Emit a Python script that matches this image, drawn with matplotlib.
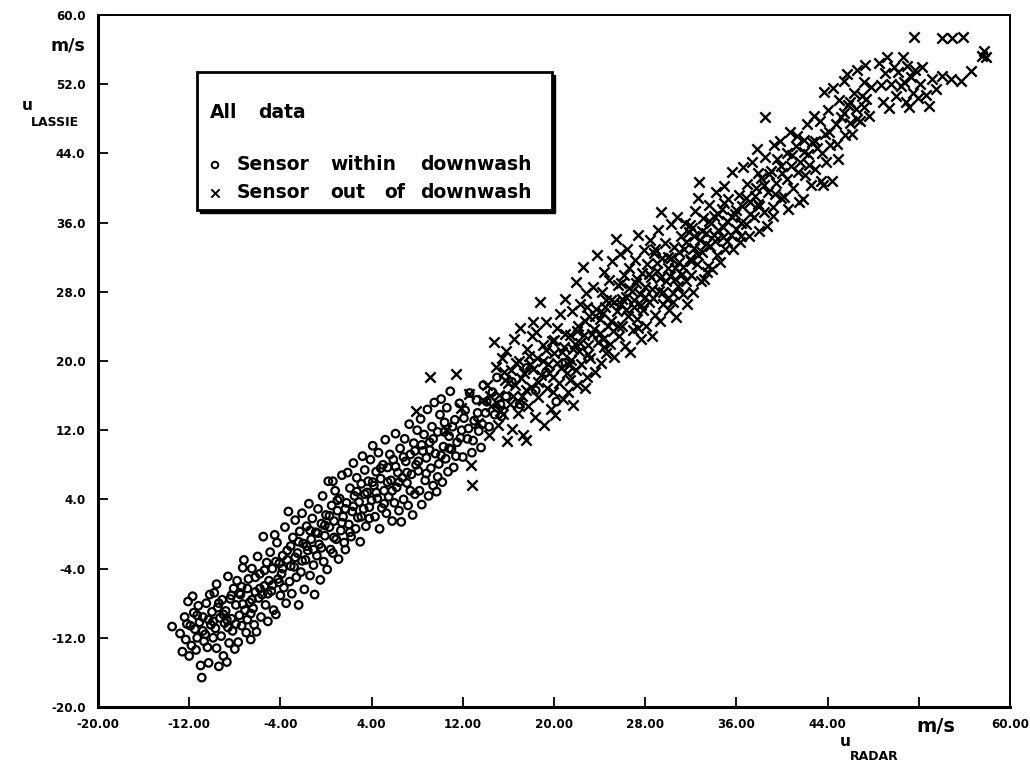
import matplotlib
matplotlib.use("Agg")
import matplotlib.pyplot as plt
from matplotlib.patches import Rectangle

# ---------------- data ----------------
within_pts = [
    (-13.5,-10.7),(-12.8,-11.5),(-12.6,-13.6),(-12.3,-12.2),(-12.1,-7.8),(-12.4,-9.6),(-12.0,-14.1),(-12.2,-10.4),
    (-11.8,-12.9),(-11.6,-9.1),(-11.5,-11.0),(-11.4,-13.4),(-11.2,-8.3),(-11.1,-10.2),(-11.0,-15.2),(-11.7,-7.2),(-11.3,-12.0),
    (-10.9,-16.6),(-10.8,-9.6),(-10.6,-11.6),(-10.5,-8.0),(-10.4,-13.1),(-10.3,-14.9),(-10.2,-7.0),(-10.1,-10.5),(-10.7,-12.4),(-10.0,-9.0),
    (-9.9,-12.0),(-9.8,-6.8),(-9.7,-10.9),(-9.6,-13.2),(-9.5,-8.5),(-9.4,-15.3),(-9.3,-9.7),(-9.2,-11.8),(-9.1,-7.6),(-9.0,-14.1),(-9.6,-5.8),
    (-8.9,-10.3),(-8.8,-8.9),(-8.7,-14.8),(-8.6,-4.9),(-8.5,-12.6),(-8.4,-7.5),(-8.3,-9.8),(-8.2,-11.2),(-8.1,-6.3),(-8.0,-13.3),(-8.6,-10.8),
    (-7.9,-8.2),(-7.8,-5.4),(-7.7,-12.5),(-7.6,-9.4),(-7.5,-7.0),(-7.4,-10.6),(-7.3,-3.9),(-7.2,-3.0),(-7.1,-8.8),(-7.0,-11.4),(-7.4,-6.1),
    (-6.9,-9.9),(-6.8,-5.2),(-6.7,-7.9),(-6.6,-12.2),(-6.5,-4.0),(-6.4,-8.6),(-6.3,-10.5),(-6.2,-6.7),(-6.1,-11.3),(-6.0,-2.6),(-6.6,-9.2),
    (-5.9,-7.4),(-5.8,-4.6),(-5.7,-9.6),(-5.5,-0.3),(-5.4,-6.0),(-5.3,-8.2),(-5.2,-3.3),(-5.1,-10.1),(-5.0,-5.4),(-5.6,-7.0),
    (-4.9,-2.1),(-4.8,-6.6),(-4.7,-4.0),(-4.6,-8.8),(-4.4,-9.3),(-4.3,-1.0),(-4.2,-5.2),(-4.1,-3.4),(-4.0,-7.1),(-4.5,-0.1),
    (-3.9,-4.6),(-3.8,-2.5),(-3.7,-6.2),(-3.6,0.8),(-3.5,-8.0),(-3.4,-3.0),(-3.3,2.6),(-3.2,-5.5),(-3.1,-1.4),(-3.0,-6.9),
    (-2.9,-0.4),(-2.8,-3.8),(-2.7,1.6),(-2.6,-5.0),(-2.5,-2.2),(-2.4,-8.2),(-2.3,0.3),(-2.2,-4.4),(-2.1,2.4),(-2.0,-1.1),
    (-1.9,-6.4),(-1.8,-3.0),(-1.7,0.9),(-1.6,-1.9),(-1.5,3.5),(-1.4,-4.8),(-1.3,-0.6),(-1.2,1.8),(-1.1,-3.6),(-1.0,-7.0),
    (-0.9,0.2),(-0.8,-2.5),(-0.7,2.9),(-0.6,-1.2),(-0.5,-5.3),(-0.4,1.2),(-0.3,4.4),(-0.2,-3.2),(-0.1,-0.2),(0.0,2.2),
    (0.2,6.1),(0.1,-4.1),(0.3,0.8),(0.4,-1.8),(0.5,3.3),(0.6,-2.2),(0.7,1.5),(0.8,5.0),(0.9,-0.6),(1.0,2.7),(0.6,6.1),
    (1.1,-2.9),(1.2,4.1),(1.3,0.4),(1.4,6.8),(1.5,2.0),(1.6,-1.0),(1.7,-1.8),(1.8,3.6),(1.9,7.1),(2.0,1.1),
    (2.1,5.3),(2.2,-0.3),(2.3,2.6),(2.4,8.2),(2.5,4.4),(2.6,0.6),(2.7,6.5),(2.8,1.9),(2.9,3.7),(3.0,-0.9),
    (3.1,5.8),(3.2,9.0),(3.3,2.9),(3.4,7.4),(3.5,0.9),(3.6,4.8),(3.7,6.1),(3.8,1.8),(3.9,8.6),(4.0,3.9),
    (4.1,10.2),(4.2,5.6),(4.3,2.0),(4.4,7.2),(4.5,4.1),(4.6,9.4),(4.7,0.6),(4.8,6.4),(4.9,3.0),(5.0,8.0),
    (5.1,5.0),(5.2,10.9),(5.3,2.4),(5.4,7.7),(5.5,4.3),(5.6,9.2),(5.7,6.2),(5.8,1.5),(5.9,8.6),(6.0,3.6),
    (6.1,11.6),(6.2,5.4),(6.3,7.1),(6.4,2.7),(6.5,9.9),(6.6,1.4),(6.7,6.5),(6.8,4.0),(6.9,11.0),(7.0,8.4),
    (7.1,5.9),(7.2,3.3),(7.3,12.7),(7.4,9.2),(7.5,6.9),(7.6,2.2),(7.7,10.5),(7.8,4.6),(7.9,8.0),(8.0,12.0),
    (8.1,7.3),(8.2,5.0),(8.3,13.3),(8.4,3.4),(8.5,9.6),(8.6,11.5),(8.7,6.2),(8.8,8.8),(8.9,14.4),(9.0,4.4),
    (9.1,10.6),(9.2,7.6),(9.3,12.4),(9.4,5.6),(9.5,15.2),(9.6,9.3),(9.7,4.9),(9.8,11.8),(9.9,8.1),(10.0,13.8),
    (10.1,15.6),(10.2,6.0),(10.3,10.1),(10.4,12.9),(10.5,8.7),(10.6,14.6),(10.7,7.2),(10.8,11.3),(10.9,16.5),(11.0,9.8),
    (11.2,7.7),(11.3,13.2),(11.5,10.6),(11.7,15.1),(11.9,12.0),(12.0,8.9),
    (12.2,14.3),(12.4,11.0),(12.6,16.3),(12.8,9.4),(13.0,13.1),
    (13.2,15.5),(13.4,11.9),(13.6,10.0),(13.8,17.2),(14.0,14.0),
    (14.3,12.4),(14.6,16.4),(15.0,18.1),(15.4,13.6),(15.8,15.9),
    (16.3,17.6),(17.0,15.0),(17.6,19.2),(18.4,16.6),(19.3,18.7),(20.2,15.3),(21.0,19.8),
    # dense core of the circle band
    (-11.9,-10.6),(-11.3,-9.4),(-10.8,-11.2),(-10.3,-9.9),(-9.9,-10.1),(-9.4,-8.0),(-9.0,-9.3),(-8.7,-9.9),
    (-8.3,-7.1),(-7.9,-10.4),(-7.6,-6.8),(-7.3,-8.1),(-6.9,-6.3),(-6.5,-7.6),(-6.2,-5.0),(-5.8,-6.3),
    (-5.4,-4.2),(-5.1,-6.9),(-4.7,-5.9),(-4.4,-3.2),(-4.1,-5.6),(-3.8,-4.0),(-3.4,-1.9),(-3.1,-3.7),
    (-2.7,-2.7),(-2.4,-0.9),(-2.1,-3.1),(-1.7,-1.4),(-1.4,0.4),(-1.1,-1.8),(-0.7,0.1),(-0.4,-1.6),
    (-0.1,1.0),(0.3,2.1),(0.7,-0.4),(1.0,3.9),(1.4,1.3),(1.7,2.9),(2.1,0.2),(2.4,3.2),(2.7,4.9),
    (3.1,2.0),(3.4,4.6),(3.8,3.1),(4.1,6.0),(4.4,4.8),(4.8,7.6),(5.1,3.5),(5.4,6.0),(5.8,5.0),
    (6.1,7.8),(6.4,6.0),(6.8,8.9),(7.1,7.1),(7.4,5.0),(7.8,9.6),(8.1,8.4),(8.4,10.3),(8.8,7.0),
    (9.1,9.7),(9.4,11.0),(9.8,6.6),(10.1,9.1),(10.4,11.8),(10.8,9.9),(11.1,12.4),(11.4,9.0),
    (11.8,11.1),(12.1,13.4),(12.5,12.2),(12.9,10.8),(13.3,14.0),(13.7,12.7),(14.1,15.3),(14.8,13.8),(15.3,15.0),
]

outside_pts = [
    (9.1,18.1),(11.4,18.5),(12.7,8.0),(12.8,5.7),(7.9,14.2),(10.5,12.0),(11.8,14.6),(12.5,16.2),(13.3,12.8),(13.8,15.5),
    (14.1,17.2),(14.3,11.4),(14.5,14.8),(14.7,22.2),(14.9,19.3),(15.1,12.6),(15.2,16.1),(15.4,20.4),(15.5,13.9),(15.7,17.8),(15.9,10.8),(15.8,21.2),
    (16.1,15.0),(16.2,19.0),(16.3,12.1),(16.5,22.5),(16.6,17.2),(16.8,14.0),(16.9,20.0),(17.0,23.8),(17.2,16.0),(17.3,11.4),(17.4,18.6),(17.5,10.9),(17.6,21.4),(17.7,14.8),(17.9,19.6),
    (18.0,17.0),(18.1,22.9),(18.2,24.5),(18.3,13.5),(18.5,20.4),(18.6,15.8),(18.8,26.8),(18.9,18.4),(19.0,21.8),(19.1,12.6),(19.3,24.5),(19.4,16.9),(19.5,19.7),(19.7,14.4),(19.8,22.3),(19.9,18.1),
    (20.0,20.9),(20.1,13.8),(20.3,23.8),(20.4,17.4),(20.5,25.4),(20.6,19.2),(20.8,15.6),(20.9,21.6),(21.0,27.2),(21.1,18.6),(21.2,16.4),(21.4,23.0),(21.5,20.1),(21.6,25.8),(21.7,14.9),(21.8,22.0),(21.9,29.1),(21.9,19.0),
    (22.0,17.2),(22.1,24.1),(22.2,21.2),(22.3,26.6),(22.5,30.9),(22.4,19.6),(22.6,23.0),(22.7,16.9),(22.8,27.9),(22.9,18.2),(23.0,21.9),(23.1,25.2),(23.2,20.3),(23.4,28.5),(23.5,23.7),(23.6,18.7),(23.8,32.3),(23.7,26.0),(23.9,22.2),
    (24.0,24.9),(24.1,19.8),(24.2,28.0),(24.3,22.6),(24.4,30.3),(24.5,26.2),(24.6,20.9),(24.7,24.0),(24.8,29.4),(24.9,22.0),(25.0,27.1),(25.1,31.6),(25.2,23.5),(25.4,34.1),(25.3,20.5),(25.5,25.8),(25.6,28.8),(25.7,22.9),(25.8,32.4),(25.9,26.6),
    (26.0,24.1),(26.1,29.9),(26.2,21.7),(26.3,27.4),(26.4,33.0),(26.5,25.2),(26.6,30.8),(26.7,21.0),(26.8,28.1),(26.9,23.6),(27.0,26.3),(27.1,31.7),(27.2,29.0),(27.3,24.8),(27.4,34.6),(27.5,27.7),(27.6,22.6),(27.7,30.2),(27.8,25.9),(27.9,32.8),
    (28.0,28.6),(28.1,24.0),(28.2,31.2),(28.3,26.8),(28.4,34.0),(28.5,29.7),(28.6,22.9),(28.7,27.3),(28.8,32.5),(28.9,25.3),(29.0,30.4),(29.1,35.2),(29.2,28.1),(29.4,37.2),(29.3,24.6),(29.5,31.9),(29.6,26.6),(29.7,33.6),(29.8,29.2),(29.9,27.2),
    (30.0,32.0),(30.1,25.9),(30.2,29.8),(30.3,35.8),(30.4,27.9),(30.5,33.2),(30.6,30.7),(30.7,25.1),(30.8,36.6),(30.9,28.7),(31.0,31.5),(31.1,34.4),(31.3,27.7),(31.2,30.1),(31.4,33.0),(31.5,36.0),(31.6,29.3),(31.7,26.6),(31.8,34.9),(31.9,31.8),
    (32.0,30.0),(32.1,35.4),(32.2,28.0),(32.3,33.1),(32.4,37.3),(32.5,31.2),(32.6,38.9),(32.7,40.7),(32.8,34.0),(32.9,29.2),(33.0,32.6),(33.1,36.5),(33.2,29.5),(33.3,34.8),(33.5,31.0),(33.6,38.0),(33.7,33.3),(33.8,35.9),(33.9,30.6),
    (34.0,36.8),(34.1,33.9),(34.2,39.5),(34.3,32.2),(34.4,35.2),(34.6,31.4),(34.7,37.6),(34.8,34.3),(34.9,40.2),(35.0,32.9),(35.2,36.2),(35.3,38.7),(35.5,34.6),(35.6,41.8),(35.7,33.0),(35.9,37.0),
    (36.0,35.3),(36.2,39.2),(36.3,33.8),(36.5,37.9),(36.6,42.4),(36.8,35.8),(36.9,40.5),(37.1,34.4),(37.2,38.4),(37.4,43.0),(37.5,36.6),(37.7,40.0),(37.8,44.5),(37.9,38.1),
    (38.0,35.0),(38.2,41.2),(38.4,37.2),(38.5,43.6),(38.7,35.6),(38.8,39.5),(39.0,42.0),(39.2,37.8),(39.3,45.0),(39.5,40.6),(39.6,43.4),(39.8,45.4),(39.2,36.8),(39.9,38.9),(38.5,48.2),
    (40.0,41.7),(40.2,39.0),(40.4,44.1),(40.5,37.6),(40.7,46.5),(40.8,42.6),(41.0,40.0),(41.2,44.9),(41.3,46.0),(41.5,38.4),(41.6,43.0),(41.8,38.7),(41.9,45.6),
    (42.0,41.5),(42.2,47.4),(42.3,43.9),(42.5,40.4),(42.6,45.3),(42.8,48.3),(42.9,42.2),(43.1,44.6),(43.3,47.7),(43.4,40.8),(43.6,40.3),(43.7,51.1),(43.8,46.2),(43.9,43.0),
    (44.0,49.0),(44.2,45.0),(44.4,40.8),(44.5,51.6),(44.7,47.4),(44.9,43.4),(45.0,50.2),(45.2,48.2),(45.4,52.4),(45.5,46.1),(45.7,53.2),(45.8,49.6),(46.0,47.5),(46.1,46.3),
    (46.3,51.0),(46.5,49.1),(46.6,53.6),(46.8,47.8),(47.0,50.6),(47.2,52.2),(47.4,50.3),(47.6,48.3),(47.8,51.7),(47.3,54.2),
    (48.5,54.5),(48.7,51.9),(48.9,50.0),(49.0,53.3),(49.2,55.1),(49.4,49.2),(49.6,52.0),(49.8,54.0),(50.0,50.6),(50.2,53.4),
    (50.4,51.8),(50.6,55.2),(50.7,52.3),(50.9,50.0),(51.0,54.1),(51.1,49.4),(51.3,52.8),(51.5,51.0),(51.6,57.5),(51.7,53.6),(51.9,50.4),
    (52.1,52.0),(52.3,54.0),(52.6,50.8),(52.9,49.5),(53.2,52.6),(53.5,51.5),(54.0,53.0),(54.0,57.3),(54.8,52.6),(54.9,57.3),
    (55.7,52.4),(55.9,57.4),(56.6,53.5),(57.5,55.3),(57.9,55.2),(57.7,55.8),
    # dense core of the cross band
    (14.4,16.0),(15.0,15.2),(15.6,18.7),(16.0,17.4),(16.4,15.9),(16.7,19.8),(17.1,18.0),(17.5,16.7),
    (17.8,20.6),(18.2,19.1),(18.6,17.6),(19.0,20.0),(19.3,21.3),(19.6,18.6),(20.0,22.4),(20.3,19.8),
    (20.7,21.0),(21.0,23.1),(21.3,19.5),(21.7,21.4),(22.0,23.5),(22.3,22.1),(22.7,24.6),(23.0,20.8),
    (23.3,23.1),(23.6,25.2),(24.0,23.2),(24.3,25.5),(24.6,27.1),(25.0,24.6),(25.3,26.8),(25.6,24.1),
    (26.0,27.2),(26.3,25.9),(26.6,28.4),(27.0,27.0),(27.3,29.5),(27.6,26.5),(28.0,27.4),(28.3,30.1),
    (28.6,28.3),(29.0,31.3),(29.3,29.6),(29.6,28.0),(30.0,30.8),(30.3,31.9),(30.6,29.5),(31.0,32.6),
    (31.3,30.9),(31.6,33.8),(32.0,31.6),(32.3,34.4),(32.6,32.3),(33.0,35.0),(33.3,33.5),(33.6,36.2),
    (34.0,34.6),(34.4,37.0),(34.8,35.5),(35.2,33.9),(35.6,36.6),(36.0,37.5),(36.4,36.0),(36.8,38.8),
    (37.2,37.0),(37.6,39.1),(38.0,37.9),(38.4,40.4),(38.9,41.6),(39.4,39.3),(39.9,42.5),(40.4,41.0),
    (40.9,43.8),(41.4,41.9),(41.9,44.2),(42.4,42.7),(42.9,45.4),(43.5,44.0),(44.1,46.5),(44.8,45.1),
    (45.4,48.7),(46.0,50.0),(46.6,48.0),(47.2,49.4),(15.3,14.2),(16.9,15.3),(18.4,23.4),(19.9,16.4),
    (21.4,17.8),(22.9,26.3),(24.4,21.6),(25.9,29.0),(27.4,23.8),(28.9,33.0),(30.4,26.8),(31.9,35.7),
    (33.4,30.3),(34.9,38.3),(36.4,34.5),(37.9,41.7),
]

x_ticks = [-20, -12, -4, 4, 12, 20, 28, 36, 44, 52, 60]
x_tick_labels = ["-20.00", "-12.00", "-4.00", "4.00", "12.00", "20.00", "28.00",
                 "36.00", "44.00", "", "60.00"]
y_ticks = [-20, -12, -4, 4, 12, 20, 28, 36, 44, 52, 60]
y_tick_labels = ["-20.0", "-12.0", "-4.0", "4.0", "12.0", "20.0", "28.0",
                 "36.0", "44.0", "52.0", "60.0"]

# ---------------- figure ----------------
W, H = 1030, 769
fig = plt.figure(figsize=(W / 100, H / 100), dpi=100)
fig.patch.set_facecolor("white")


def fx(px):
    return px / W


def fy(py):
    return 1 - py / H


ax = fig.add_axes([fx(98), fy(707), fx(1010) - fx(98), fy(15) - fy(707)])
ax.set_xlim(-20, 60)
ax.set_ylim(-20, 60)

wx = [p[0] for p in within_pts]
wy = [p[1] for p in within_pts]
ox = [p[0] for p in outside_pts]
oy = [p[1] for p in outside_pts]

ax.scatter(wx, wy, marker="o", s=30, facecolors="none", edgecolors="black",
           linewidths=1.6, zorder=3)
ax.scatter(ox, oy, marker="x", s=55, color="black", linewidths=1.7, zorder=3)

tick_font = dict(family="DejaVu Sans", weight="bold", stretch="condensed", size=9.5)
ax.set_xticks(x_ticks)
ax.set_xticklabels(x_tick_labels, fontdict=tick_font)
ax.set_yticks(y_ticks)
ax.set_yticklabels(y_tick_labels, fontdict=tick_font)
ax.tick_params(direction="in", length=7, width=1.3, colors="black")
ax.tick_params(axis="x", pad=8)
ax.tick_params(axis="y", pad=9)

for side in ["left", "bottom"]:
    ax.spines[side].set_linewidth(2.2)
for side in ["top", "right"]:
    ax.spines[side].set_linewidth(1.4)

# legend box (drawn manually)
lx0, lx1 = (197 - 98) / 912, (552 - 98) / 912
ly0, ly1 = (707 - 210) / 692, (707 - 72) / 692
shadow = Rectangle((lx0 + 0.003, ly0 - 0.004), lx1 - lx0, ly1 - ly0,
                   transform=ax.transAxes, facecolor="black", edgecolor="black",
                   zorder=5)
box = Rectangle((lx0, ly0), lx1 - lx0, ly1 - ly0, transform=ax.transAxes,
                facecolor="white", edgecolor="black", linewidth=2.0, zorder=6)
ax.add_patch(shadow)
ax.add_patch(box)

leg_font = dict(family="DejaVu Sans", weight="bold", size=13.5)
fig.text(fx(210), fy(112), "All", va="center", ha="left", zorder=7, **leg_font)
fig.text(fx(258), fy(112), "data", va="center", ha="left", zorder=7, **leg_font)
for word, px in [("Sensor", 237), ("within", 330), ("downwash", 420)]:
    fig.text(fx(px), fy(164), word, va="center", ha="left", zorder=7, **leg_font)
for word, px in [("Sensor", 237), ("out", 330), ("of", 384), ("downwash", 420)]:
    fig.text(fx(px), fy(193), word, va="center", ha="left", zorder=7, **leg_font)
ax.scatter([(215 - 98) / 912 * 80 - 20], [(707 - 165) / 692 * 80 - 20], marker="o",
           s=22, facecolors="none", edgecolors="black", linewidths=1.4, zorder=8,
           clip_on=False)
ax.scatter([(215 - 98) / 912 * 80 - 20], [(707 - 193) / 692 * 80 - 20], marker="x",
           s=36, color="black", linewidths=1.4, zorder=8, clip_on=False)

# axis annotations
lab_font = dict(family="DejaVu Sans", weight="bold")
fig.text(fx(85), fy(45), "m/s", ha="right", va="center", size=12.5, **lab_font)
fig.text(fx(22), fy(106), "u", ha="left", va="center", size=11, **lab_font)
fig.text(fx(31), fy(122), "LASSIE", ha="left", va="center", size=9, **lab_font)
fig.text(fx(936), fy(727), "m/s", ha="center", va="center", size=14, **lab_font)
fig.text(fx(840), fy(741), "u", ha="left", va="center", size=11, **lab_font)
fig.text(fx(850), fy(756), "RADAR", ha="left", va="center", size=9, **lab_font)

fig.savefig("out.png", dpi=100, facecolor="white")
